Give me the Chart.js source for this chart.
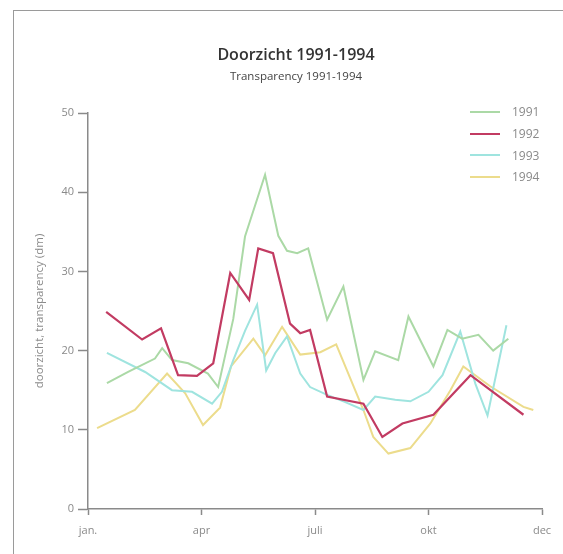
<!DOCTYPE html>
<html>
<head>
<meta charset="utf-8">
<title>Doorzicht 1991-1994</title>
<script src="https://cdn.jsdelivr.net/npm/chart.js@4"></script>
<style>
  body{margin:0;width:563px;height:554px;overflow:hidden;background:#fff;position:relative;font-family:'Open Sans',sans-serif}
  #frame{position:absolute;left:13px;top:10px;width:620px;height:620px;border:1.5px solid #9a9a9a}
  #chart{position:absolute;left:0;top:0}
  .head{position:absolute;left:0;width:592px;text-align:center;color:#333}
  #title{top:44px;font-size:16px;line-height:20px;font-weight:600}
  #subtitle{top:69px;font-size:11.5px;line-height:14px;color:#444}
  #legend{position:absolute;left:470px;top:101px}
  #legend div{height:21.7px;display:flex;align-items:center;font-size:12px;color:#8a8a8a}
  #legend span{display:inline-block;width:30px;height:2px;margin-right:12px}
</style>
</head>
<body>
<div id="frame"></div>
<canvas id="chart" width="563" height="554"></canvas>
<div class="head" id="title">Doorzicht 1991-1994</div>
<div class="head" id="subtitle">Transparency 1991-1994</div>
<div id="legend"></div>
<script>
// x = month of the year (0 = jan, 12 = end of dec), y = transparency in dm
const tickMonths = [0, 3, 6, 9, 12]
const tickLabels = ['jan.', 'apr', 'juli', 'okt', 'dec']
const years = ['1991', '1992', '1993', '1994']

const months1991 = [0.50, 1.06, 1.77, 1.96, 2.22, 2.65, 3.17, 3.44, 3.84, 4.15, 4.68, 5.03, 5.26, 5.53, 5.82, 6.32, 6.75, 7.28, 7.59, 8.20, 8.47, 9.13, 9.50, 9.89, 10.32, 10.71, 11.11]
const depth1991 = [15.9, 17.3, 19.0, 20.3, 18.8, 18.4, 17.1, 15.4, 24.0, 34.4, 42.2, 34.5, 32.6, 32.3, 32.9, 23.9, 28.1, 16.3, 19.9, 18.8, 24.3, 18.0, 22.6, 21.5, 22.0, 20.0, 21.5]

const months1992 = [0.48, 1.43, 1.93, 2.38, 2.88, 3.31, 3.76, 4.26, 4.50, 4.89, 5.34, 5.61, 5.87, 6.32, 7.28, 7.78, 8.31, 9.13, 10.11, 11.51]
const depth1992 = [24.9, 21.4, 22.8, 16.9, 16.8, 18.4, 29.8, 26.4, 32.9, 32.3, 23.4, 22.2, 22.6, 14.2, 13.3, 9.1, 10.8, 11.9, 16.9, 11.9]

const months1993 = [0.50, 1.51, 2.22, 2.75, 3.28, 3.54, 3.84, 4.15, 4.47, 4.71, 4.95, 5.26, 5.61, 5.87, 6.32, 6.80, 7.28, 7.59, 8.12, 8.52, 9.00, 9.37, 9.84, 10.24, 10.56, 11.06]
const depth1993 = [19.7, 17.3, 15.0, 14.8, 13.3, 14.8, 18.8, 22.5, 25.8, 17.5, 19.7, 21.8, 17.1, 15.4, 14.4, 13.5, 12.5, 14.2, 13.8, 13.6, 14.8, 16.9, 22.4, 15.8, 11.8, 23.2]

const months1994 = [0.24, 1.24, 2.09, 2.57, 3.04, 3.49, 3.78, 4.37, 4.68, 5.13, 5.61, 6.14, 6.56, 7.28, 7.54, 7.94, 8.52, 9.05, 9.58, 9.92, 10.63, 11.51, 11.77]
const depth1994 = [10.2, 12.5, 17.1, 14.6, 10.6, 12.8, 18.0, 21.5, 19.4, 23.0, 19.5, 19.8, 20.8, 12.5, 9.1, 7.0, 7.7, 10.8, 15.0, 18.0, 15.5, 12.9, 12.5]

const colors = ['#abd9a6', '#c23b62', '#9fe4df', '#ecdc8c']
const allMonths = [months1991, months1992, months1993, months1994]
const allDepths = [depth1991, depth1992, depth1993, depth1994]

const axisGrey = '#8a8a8a'
const font = {family: "'Open Sans', sans-serif", size: 11}

const datasets = years.map((year, i) => ({
    label: year,
    data: allMonths[i].map((m, j) => ({x: m, y: allDepths[i][j]})),
    borderColor: colors[i],
    backgroundColor: colors[i],
    borderWidth: i === 1 ? 2.2 : 2,
    pointRadius: 0,
    tension: 0,
    fill: false,
    order: i === 1 ? 0 : 1 //red line on top
}))

const chart = new Chart(document.getElementById('chart'), {
    type: 'line',
    data: {datasets: datasets},
    options: {
        responsive: false,
        animation: false,
        layout: {padding: {top: 113, right: 21, left: 0, bottom: 0}},
        plugins: {legend: {display: false}, tooltip: {enabled: false}},
        scales: {
            x: {
                type: 'linear',
                min: 0,
                max: 12,
                afterBuildTicks: axis => { axis.ticks = tickMonths.map(v => ({value: v})) },
                afterFit: axis => { axis.height = 45 },
                ticks: {
                    callback: (v, i) => tickLabels[i],
                    color: axisGrey,
                    font: font,
                    padding: 9,
                    maxRotation: 0,
                    autoSkip: false
                },
                grid: {drawOnChartArea: false, drawTicks: true, tickLength: 6, tickColor: axisGrey, tickWidth: 1.5},
                border: {display: true, color: axisGrey, width: 1.5}
            },
            y: {
                min: 0,
                max: 50,
                afterFit: axis => { axis.width = 88 },
                ticks: {stepSize: 10, color: axisGrey, font: font, padding: 4},
                title: {
                    display: true,
                    text: 'doorzicht, transparency (dm)',
                    color: axisGrey,
                    font: {family: "'Open Sans', sans-serif", size: 11.5},
                    padding: {top: 33, bottom: 0}
                },
                grid: {drawOnChartArea: false, drawTicks: true, tickLength: 10, tickColor: axisGrey, tickWidth: 1.5},
                border: {display: true, color: axisGrey, width: 1.5}
            }
        }
    }
})

//legend built from the datasets, kept in year order
const legend = document.getElementById('legend')
chart.data.datasets.forEach(ds => {
    const row = document.createElement('div')
    row.innerHTML = `<span style="background:${ds.borderColor}"></span>${ds.label}`
    legend.appendChild(row)
})
</script>
</body>
</html>
